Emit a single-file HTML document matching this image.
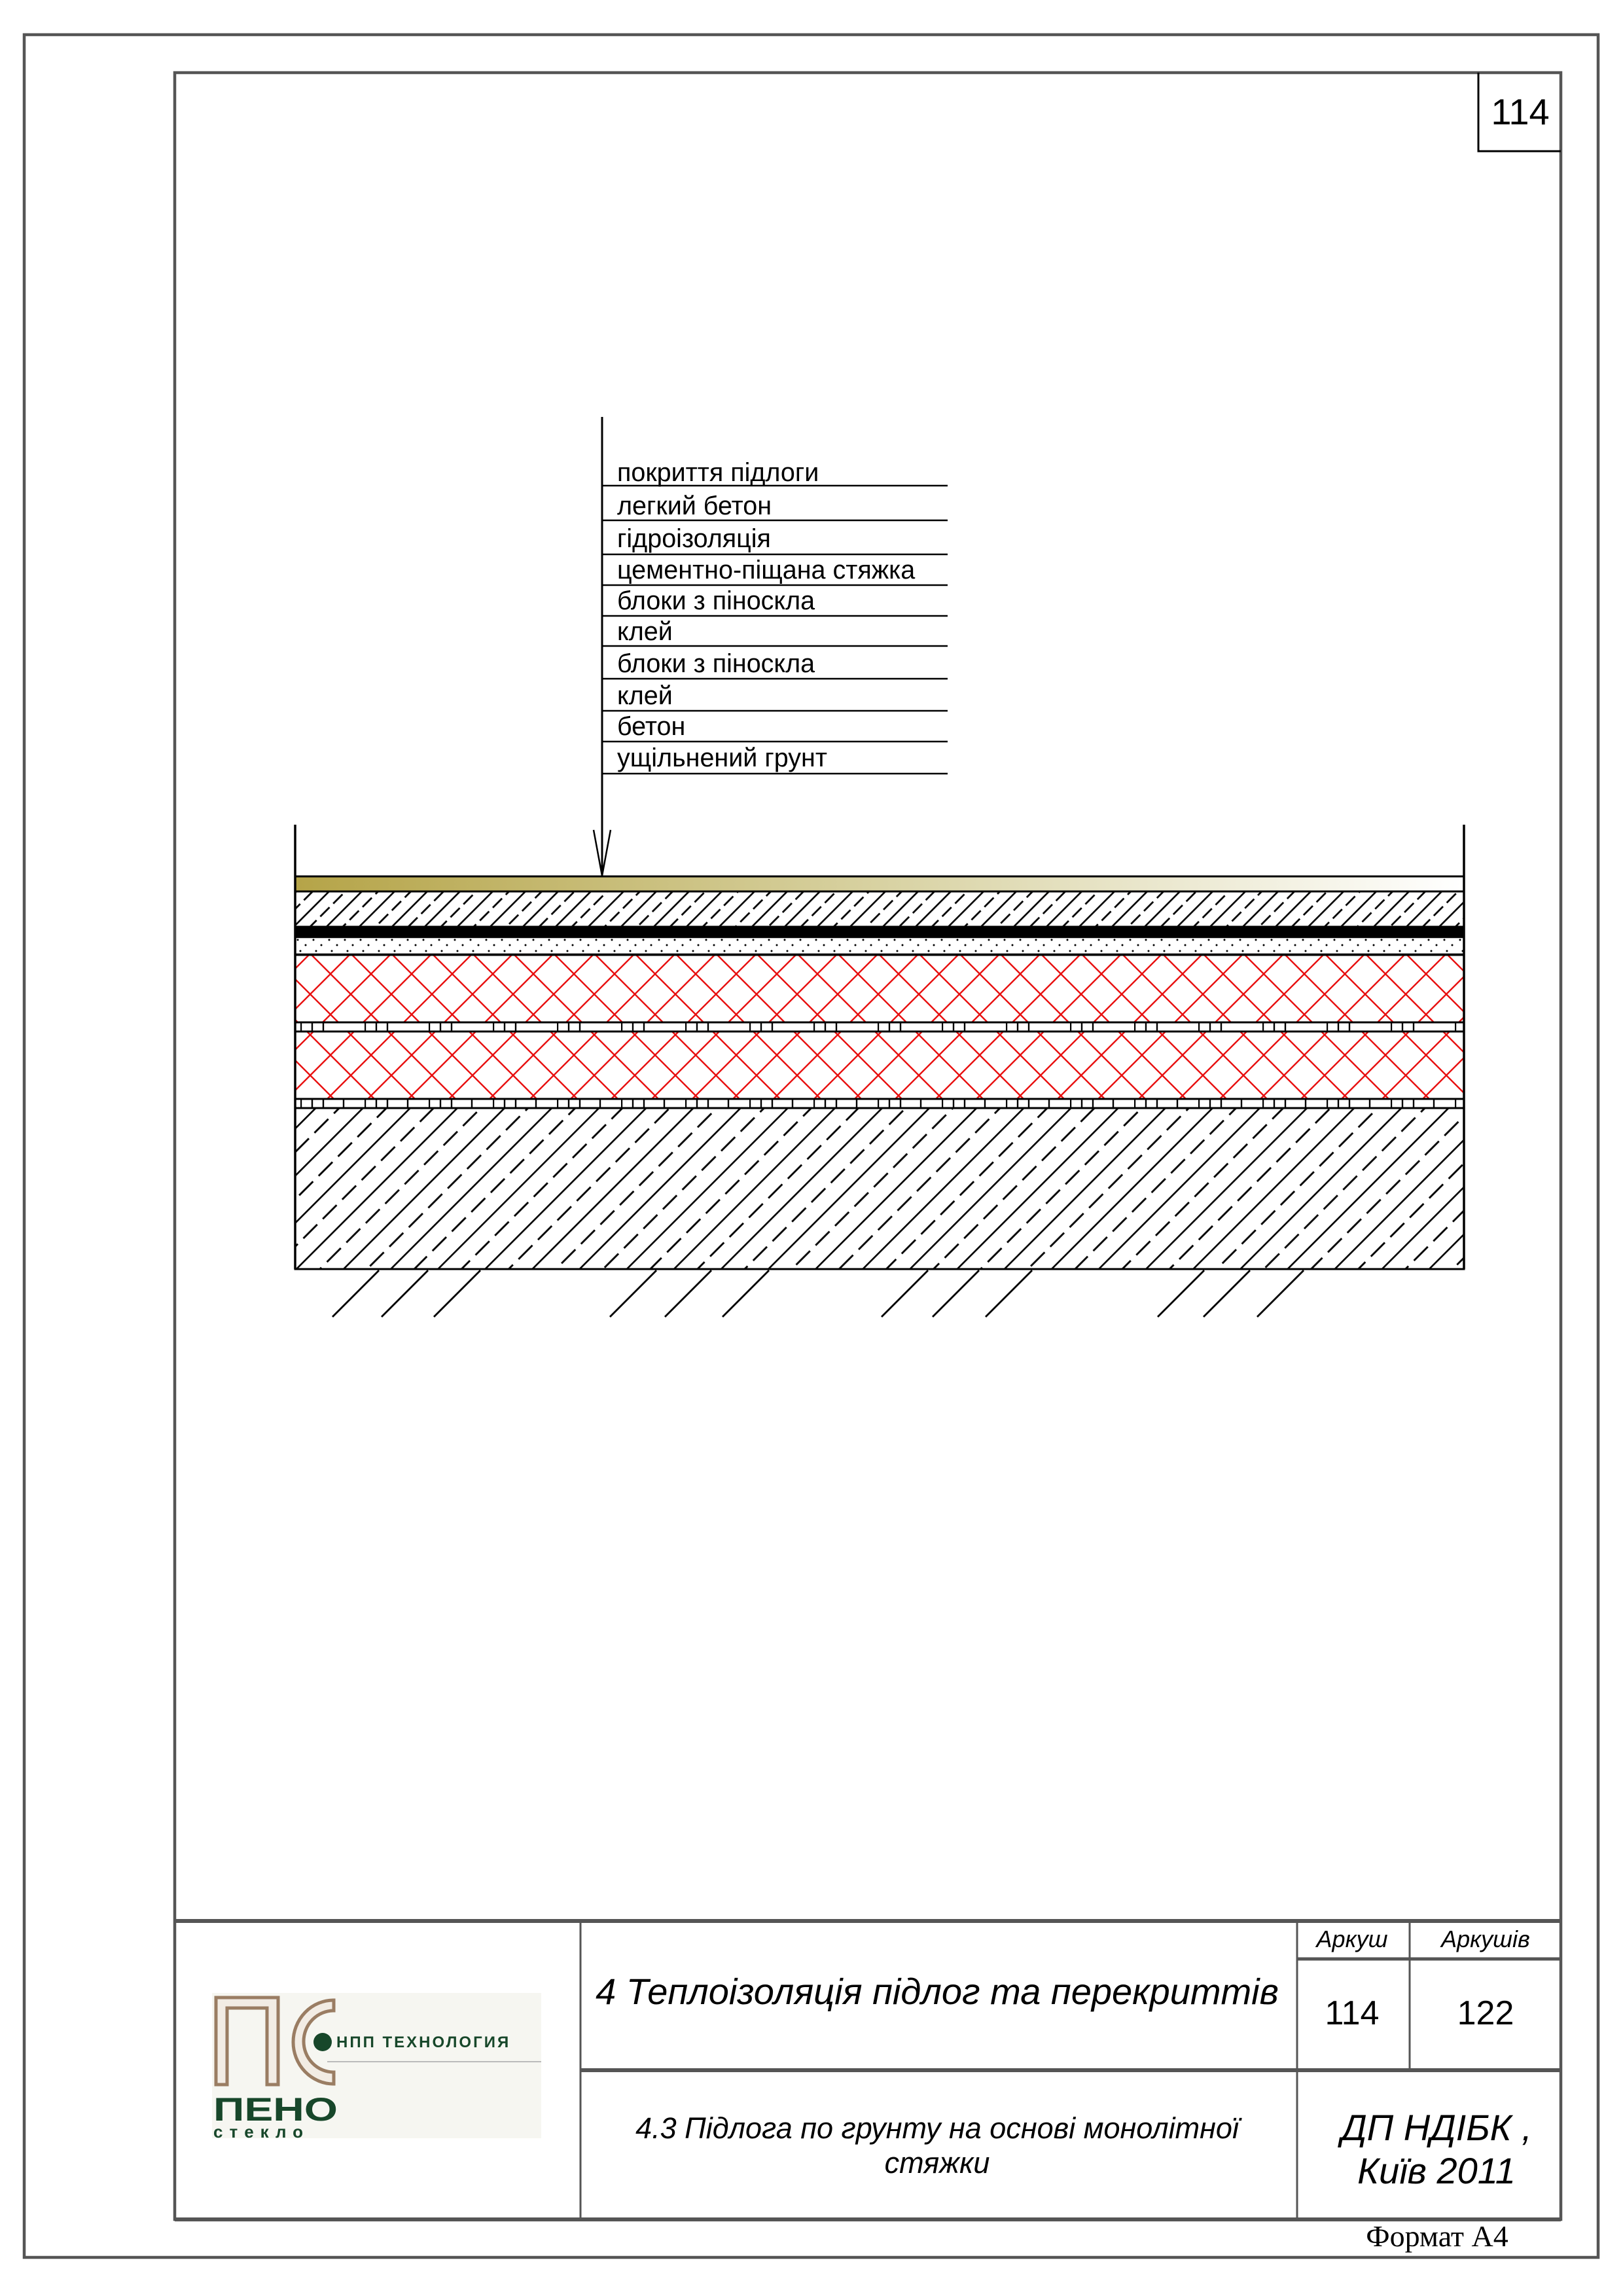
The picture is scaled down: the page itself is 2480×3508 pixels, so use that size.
<!DOCTYPE html>
<html><head><meta charset="utf-8"><style>
html,body{margin:0;padding:0;background:#fff}
svg{display:block}
</style></head><body>
<svg width="2480" height="3508" viewBox="0 0 2480 3508" xmlns="http://www.w3.org/2000/svg" font-family="Liberation Sans, sans-serif">
<defs>
 <linearGradient id="gold" x1="0" x2="1" y1="0" y2="0">
  <stop offset="0" stop-color="#b5a448"/><stop offset="0.5" stop-color="#d8d2a2"/><stop offset="1" stop-color="#ffffff"/>
 </linearGradient>
 <pattern id="lc" patternUnits="userSpaceOnUse" width="28" height="35.36" patternTransform="translate(451,1362) rotate(-45)">
  <line x1="0" y1="1.2" x2="28" y2="1.2" stroke="#000" stroke-width="2.8"/>
  <line x1="0" y1="18.9" x2="20" y2="18.9" stroke="#000" stroke-width="2.8"/>
 </pattern>
 <pattern id="cc" patternUnits="userSpaceOnUse" width="42" height="51" patternTransform="translate(451,1939) rotate(-45)">
  <line x1="0" y1="1.2" x2="42" y2="1.2" stroke="#000" stroke-width="2.8"/>
  <line x1="0" y1="26.7" x2="30" y2="26.7" stroke="#000" stroke-width="2.8"/>
 </pattern>
 <pattern id="rx" patternUnits="userSpaceOnUse" x="505" y="1488" width="62" height="62">
  <line x1="-2" y1="-2" x2="64" y2="64" stroke="#e81010" stroke-width="2.4"/>
  <line x1="-2" y1="64" x2="64" y2="-2" stroke="#e81010" stroke-width="2.4"/>
 </pattern>
 <pattern id="dots" patternUnits="userSpaceOnUse" x="451" y="1432" width="24" height="26">
  <circle cx="4" cy="4" r="1.5" fill="#000"/>
  <circle cx="16" cy="12" r="1.5" fill="#000"/>
  <circle cx="8" cy="21" r="1.5" fill="#000"/>
 </pattern>
 <pattern id="gl1" patternUnits="userSpaceOnUse" x="557" y="0" width="98" height="40">
  <line x1="1" y1="0" x2="1" y2="40" stroke="#000" stroke-width="2.4"/>
  <line x1="18" y1="0" x2="18" y2="40" stroke="#000" stroke-width="2.4"/>
  <line x1="35" y1="0" x2="35" y2="40" stroke="#000" stroke-width="2.4"/>
 </pattern>
 <pattern id="gl2" patternUnits="userSpaceOnUse" x="557" y="0" width="98" height="40">
  <line x1="1" y1="0" x2="1" y2="40" stroke="#000" stroke-width="2.4"/>
  <line x1="18" y1="0" x2="18" y2="40" stroke="#000" stroke-width="2.4"/>
  <line x1="35" y1="0" x2="35" y2="40" stroke="#000" stroke-width="2.4"/>
  <line x1="66" y1="0" x2="66" y2="40" stroke="#000" stroke-width="2.4"/>
 </pattern>
</defs>

<rect x="37" y="53" width="2405" height="3396" fill="none" stroke="#555" stroke-width="4.5"/>
<rect x="267" y="111" width="2118" height="3280" fill="none" stroke="#555" stroke-width="4.5"/>
<polyline points="2259,111 2259,231 2385,231" fill="none" stroke="#000" stroke-width="3"/>
<text x="2323" y="190" font-size="56" text-anchor="middle">114</text>

<line x1="920" y1="637" x2="920" y2="1338" stroke="#000" stroke-width="3"/>
<polyline points="907,1268 920,1338 933,1268" fill="none" stroke="#000" stroke-width="2.5"/>
<g stroke="#000" stroke-width="2.6">
 <line x1="920" y1="742" x2="1448" y2="742"/><line x1="920" y1="795" x2="1448" y2="795"/>
 <line x1="920" y1="847" x2="1448" y2="847"/><line x1="920" y1="894" x2="1448" y2="894"/>
 <line x1="920" y1="941" x2="1448" y2="941"/><line x1="920" y1="987" x2="1448" y2="987"/>
 <line x1="920" y1="1037" x2="1448" y2="1037"/><line x1="920" y1="1086" x2="1448" y2="1086"/>
 <line x1="920" y1="1133" x2="1448" y2="1133"/><line x1="920" y1="1182" x2="1448" y2="1182"/>
</g>
<g font-size="39.5">
 <text x="943" y="735">покриття підлоги</text>
 <text x="943" y="786">легкий бетон</text>
 <text x="943" y="836">гідроізоляція</text>
 <text x="943" y="884">цементно-піщана стяжка</text>
 <text x="943" y="931">блоки з піноскла</text>
 <text x="943" y="978">клей</text>
 <text x="943" y="1027">блоки з піноскла</text>
 <text x="943" y="1076">клей</text>
 <text x="943" y="1123">бетон</text>
 <text x="943" y="1171">ущільнений грунт</text>
</g>

<g>
 <rect x="451" y="1339" width="1786" height="23" fill="url(#gold)" stroke="#000" stroke-width="3"/>
 <rect x="451" y="1362" width="1786" height="54" fill="url(#lc)" stroke="#000" stroke-width="3"/>
 <rect x="451" y="1416" width="1786" height="16" fill="#000"/>
 <rect x="451" y="1432" width="1786" height="26" fill="url(#dots)" stroke="#000" stroke-width="2.5"/>
 <rect x="451" y="1459" width="1786" height="103" fill="url(#rx)" stroke="#000" stroke-width="3"/>
 <rect x="451" y="1562" width="1786" height="14" fill="url(#gl1)" stroke="#000" stroke-width="3"/>
 <rect x="451" y="1576" width="1786" height="103" fill="url(#rx)" stroke="#000" stroke-width="3"/>
 <rect x="451" y="1679" width="1786" height="14" fill="url(#gl2)" stroke="#000" stroke-width="3"/>
 <rect x="451" y="1693" width="1786" height="246" fill="url(#cc)" stroke="#000" stroke-width="3"/>
 <line x1="451" y1="1260" x2="451" y2="1939" stroke="#000" stroke-width="3.5"/>
 <line x1="2237" y1="1260" x2="2237" y2="1939" stroke="#000" stroke-width="3.5"/>
 <g stroke="#000" stroke-width="2.8">
  <line x1="508" y1="2012" x2="579" y2="1941"/><line x1="583" y1="2012" x2="654" y2="1941"/><line x1="663" y1="2012" x2="734" y2="1941"/>
  <line x1="932" y1="2012" x2="1003" y2="1941"/><line x1="1016" y1="2012" x2="1087" y2="1941"/><line x1="1104" y1="2012" x2="1175" y2="1941"/>
  <line x1="1347" y1="2012" x2="1418" y2="1941"/><line x1="1425" y1="2012" x2="1496" y2="1941"/><line x1="1506" y1="2012" x2="1577" y2="1941"/>
  <line x1="1769" y1="2012" x2="1840" y2="1941"/><line x1="1839" y1="2012" x2="1910" y2="1941"/><line x1="1921" y1="2012" x2="1992" y2="1941"/>
 </g>
</g>

<g stroke="#555" fill="none">
 <line x1="267" y1="2935" x2="2385" y2="2935" stroke-width="6"/>
 <line x1="887" y1="2935" x2="887" y2="3391" stroke-width="3"/>
 <line x1="1982" y1="2935" x2="1982" y2="3391" stroke-width="3"/>
 <line x1="2154" y1="2935" x2="2154" y2="3163" stroke-width="3"/>
 <line x1="1982" y1="2993" x2="2385" y2="2993" stroke-width="5"/>
 <line x1="887" y1="3163" x2="2385" y2="3163" stroke-width="6"/>
 <line x1="267" y1="3391" x2="2385" y2="3391" stroke-width="6"/>
</g>
<g font-style="italic" text-anchor="middle">
 <text x="2066" y="2975" font-size="36">Аркуш</text>
 <text x="2270" y="2975" font-size="36">Аркушів</text>
 <text x="1432" y="3062" font-size="56">4 Теплоізоляція підлог та перекриттів</text>
 <text x="1432" y="3267" font-size="45">4.3 Підлога по грунту на основі монолітної</text>
 <text x="1432" y="3320" font-size="45">стяжки</text>
 <text x="2195" y="3270" font-size="56">ДП НДІБК ,</text>
 <text x="2195" y="3336" font-size="56">Київ 2011</text>
</g>
<g text-anchor="middle" font-size="52">
 <text x="2066" y="3093">114</text>
 <text x="2270" y="3093">122</text>
</g>
<text x="2196" y="3432" font-size="46" text-anchor="middle" style="font-family:'Liberation Serif',serif">Формат А4</text>

<g>
 <rect x="324" y="3045" width="503" height="222" fill="#f6f6f1"/>
 <path d="M330 3052 H425 V3185 H408 V3068 H347 V3185 H330 Z" fill="#f2ece4" stroke="#9a7d63" stroke-width="5"/>
 <path d="M510 3056 A62 64 0 0 0 510 3184 V3166 A46 47 0 0 1 510 3072 Z" fill="#f2ece4" stroke="#9a7d63" stroke-width="5"/>
 <circle cx="493" cy="3120" r="14" fill="#17472a"/>
 <text x="514" y="3128" font-size="24" font-weight="bold" fill="#17472a" letter-spacing="3">НПП ТЕХНОЛОГИЯ</text>
 <line x1="500" y1="3150" x2="827" y2="3150" stroke="#bbb" stroke-width="2"/>
 <text x="326" y="3240" font-size="50" font-weight="bold" fill="#17472a" textLength="190" lengthAdjust="spacingAndGlyphs">ПЕНО</text>
 <text x="326" y="3266" font-size="26" font-weight="bold" fill="#17472a" letter-spacing="10">стекло</text>
</g>
</svg>
</body></html>
